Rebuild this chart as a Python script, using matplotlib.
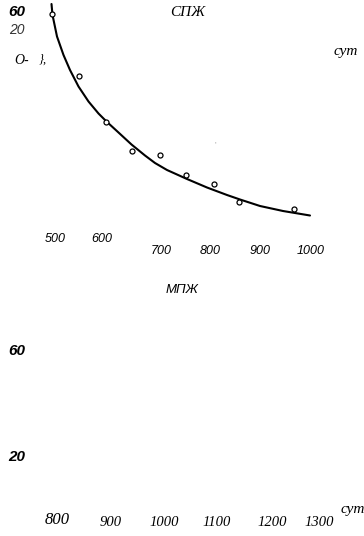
import numpy as np
import matplotlib
matplotlib.use("Agg")
import matplotlib.pyplot as plt

# measured points (days, relative units)
days = [482, 536, 591, 643, 698, 751, 807, 857, 966]
vals = [45.2, 32.8, 23.7, 17.9, 17.1, 13.0, 11.3, 7.6, 6.3]

# smoothed curve
curve_days = [481, 483, 492, 505, 518, 535, 555, 575, 591, 615, 641, 668,
              688, 712, 752, 792, 832, 858, 898, 944, 998]
curve_vals = [47.2, 45.0, 40.7, 37.0, 34.0, 30.7, 27.7, 25.3, 23.7, 21.5, 19.1, 16.9,
              15.4, 14.0, 12.2, 10.5, 9.0, 8.1, 6.8, 5.8, 4.9]

top_ticks = ["500", "600", "700", "800", "900", "1000"]
bottom_ticks = ["800", "900", "1000", "1100", "1200", "1300"]

W, H = 364, 536
fig = plt.figure(figsize=(W / 100, H / 100), dpi=100)

# top panel: data axes
ax = fig.add_axes([0, 1 - 270 / H, 1, 270 / H])
ax.set_xlim(378, 1106)
ax.set_ylim(-6, 48)
ax.axis("off")
ax.plot(curve_days, curve_vals, color="black", lw=1.5, solid_capstyle="round",
        solid_joinstyle="round", zorder=2)
ax.plot(days, vals, "o", ms=3.6, mfc="white", mec="black", mew=0.9, zorder=3)


def put(px, py, s, **kw):
    fig.text(px / W, 1 - py / H, s, ha="center", va="center", **kw)


sans = "Liberation Sans"
serif = "Liberation Serif"

# top panel labels
put(17, 12, "60", family=sans, weight="bold", style="italic", fontsize=11)
put(17, 30, "20", family=sans, style="italic", fontsize=10, color="#333333")
put(22, 60, "О-", family=serif, style="italic", fontsize=10)
put(43, 60, "},", family=serif, style="italic", fontsize=9)
put(188, 13, "СПЖ", family=serif, style="italic", fontsize=11)
put(346, 52, "сут", family=serif, style="italic", fontsize=11)
put(215, 145, "'", family=sans, fontsize=6, color="#999999")

top_pos = [(55, 239.5), (102, 239.5), (161, 251.5), (210, 251.5), (260, 251.5), (311, 251.5)]
for (px, py), lab in zip(top_pos, top_ticks):
    put(px, py, lab, family=sans, style="italic", fontsize=9)

# bottom panel labels
put(182, 290, "МПЖ", family=sans, style="italic", fontsize=9.5)
put(17, 351, "60", family=sans, weight="bold", style="italic", fontsize=11)
put(17, 457, "20", family=sans, weight="bold", style="italic", fontsize=11)

bottom_pos = [(57, 520), (111, 522), (164, 522), (217, 522), (272, 522), (319, 522)]
bottom_size = [12, 10.5, 10.5, 10.5, 10.5, 10.5]
for (px, py), lab, fs in zip(bottom_pos, bottom_ticks, bottom_size):
    put(px, py, lab, family=serif, style="italic", fontsize=fs)
fig.text(341 / W, 1 - 510 / H, "сут", ha="left", va="center",
         family=serif, style="italic", fontsize=11)

fig.savefig("out.png", dpi=100, facecolor="white")
